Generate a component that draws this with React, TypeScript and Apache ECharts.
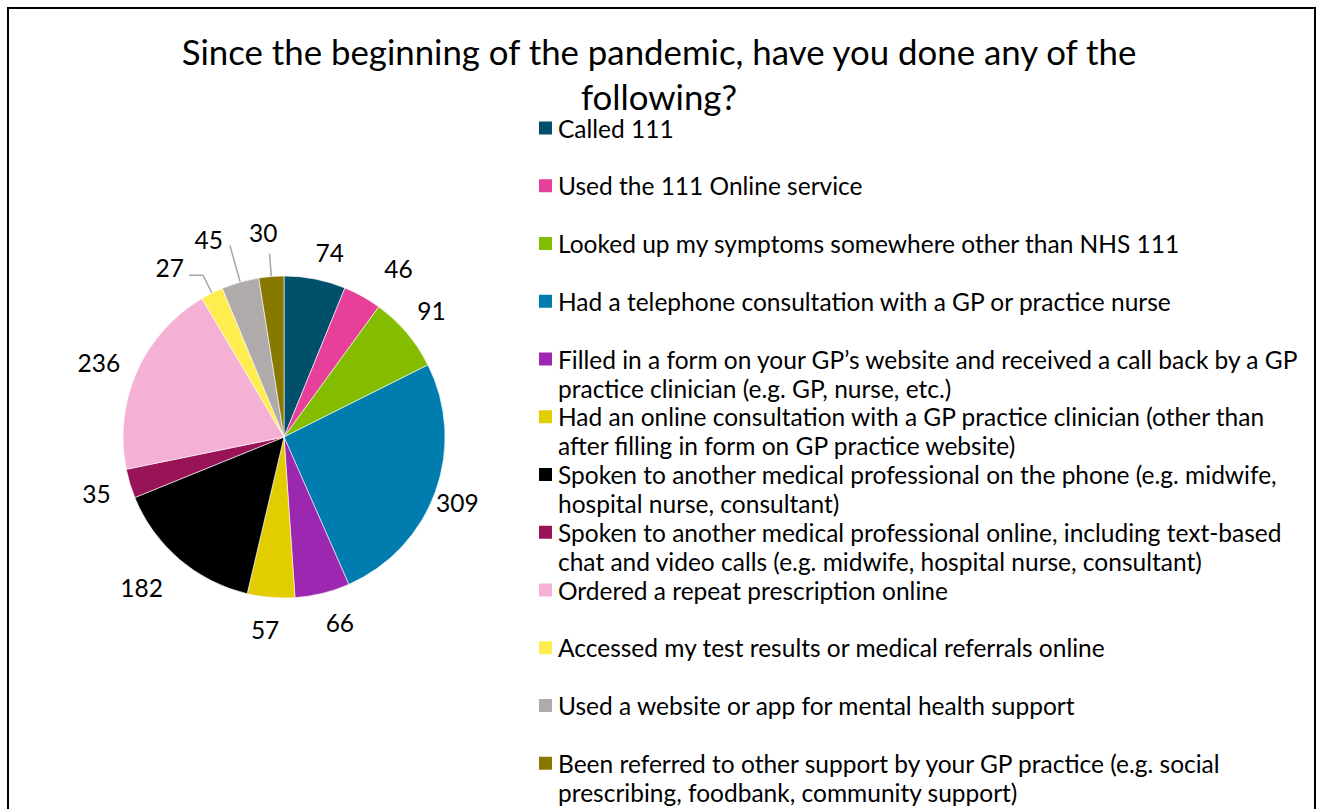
import React, { useEffect, useRef } from 'react';
import * as echarts from 'echarts';

const titleText = 'Since the beginning of the pandemic, have you done any of the\nfollowing?';

const categories = [
  'Called 111',
  'Used the 111 Online service',
  'Looked up my symptoms somewhere other than NHS 111',
  'Had a telephone consultation with a GP or practice nurse',
  'Filled in a form on your GP’s website and received a call back by a GP\npractice clinician (e.g. GP, nurse, etc.)',
  'Had an online consultation with a GP practice clinician (other than\nafter filling in form on GP practice website)',
  'Spoken to another medical professional on the phone (e.g. midwife,\nhospital nurse, consultant)',
  'Spoken to another medical professional online, including text-based\nchat and video calls (e.g. midwife, hospital nurse, consultant)',
  'Ordered a repeat prescription online',
  'Accessed my test results or medical referrals online',
  'Used a website or app for mental health support',
  'Been referred to other support by your GP practice (e.g. social\nprescribing, foodbank, community support)',
];

const values = [74, 46, 91, 309, 66, 57, 182, 35, 236, 27, 45, 30];

const colors = [
  '#00506b', '#e6409b', '#84bd00', '#007dae', '#9c27b0', '#e1cd00',
  '#000000', '#991457', '#f5b0d5', '#ffed50', '#afabab', '#877800',
];

// slices whose labels use leader lines: [length, length2]
const leaderLines: Record<number, [number, number]> = {
  9: [20, 14],
  10: [38, 0],
  11: [23, 0],
};
// small label nudges: [dx, dy]
const labelNudges: Record<number, [number, number]> = {
  0: [8, 8],
  1: [19, 3],
  2: [-2, 0],
  3: [-11, -1],
  4: [9, -5],
  5: [-3, -3],
  6: [-15, 2],
  8: [-6, 5],
  9: [0, -8],
  10: [-2, -6],
  11: [13, -21],
};

const FONT = 'Lato';

export default function App() {
  const ref = useRef<HTMLDivElement>(null);
  useEffect(() => {
    if (!ref.current) return;
    const chart = echarts.init(ref.current, undefined, { renderer: 'svg' });
    const center = [284, 437];
    const legendStart = 128;
    const legendStep = 57.75;
    const lineH = 29;
    const nudge = (p: any) => {
      const n = labelNudges[p.dataIndex];
      return n ? { dx: n[0], dy: n[1] } : {};
    };
    chart.setOption({
      animation: false,
      backgroundColor: '#fff',
      title: {
        text: titleText,
        left: 'center',
        top: 29,
        padding: 0,
        textStyle: { fontSize: 34.8, lineHeight: 45, fontWeight: 'normal', color: '#000', fontFamily: FONT },
      },
      legend: categories.map((name, i) => {
        const two = name.includes('\n');
        return {
          orient: 'vertical',
          left: 537,
          top: legendStart + legendStep * i - (two ? lineH * 1.5 : lineH / 2),
          padding: 0,
          itemWidth: 15,
          itemHeight: 15,
          icon: 'rect',
          selectedMode: false,
          formatter: (n: string) => (n.includes('\n') ? '\n' + n : n),
          textStyle: { fontSize: 24.5, lineHeight: lineH, color: '#000', fontFamily: FONT },
          data: [{ name }],
        };
      }),
      graphic: [
        {
          type: 'rect',
          shape: { x: 8, y: 8, width: 1307, height: 840 },
          style: { fill: 'none', stroke: '#000', lineWidth: 2 },
          silent: true,
        },
      ],
      series: [
        {
          type: 'pie',
          center,
          radius: 161,
          startAngle: 90,
          clockwise: true,
          avoidLabelOverlap: false,
          itemStyle: { borderColor: '#fff', borderWidth: 0.6 },
          label: { position: 'outside', formatter: '{c}', fontSize: 24.5, color: '#000', fontFamily: FONT },
          labelLine: { lineStyle: { color: '#a6a6a6', width: 1.5 } },
          labelLayout: nudge,
          emphasis: { disabled: true },
          data: values.map((v, i) => {
            const ll = leaderLines[i];
            return {
              name: categories[i],
              value: v,
              itemStyle: { color: colors[i] },
              label: { show: !!ll },
              labelLine: ll ? { show: true, length: ll[0], length2: ll[1] } : { show: false },
            };
          }),
        },
        {
          type: 'pie',
          center,
          radius: [182, 204],
          startAngle: 90,
          clockwise: true,
          silent: true,
          avoidLabelOverlap: false,
          itemStyle: { color: 'transparent' },
          label: { position: 'inside', formatter: '{c}', fontSize: 24.5, color: '#000', fontFamily: FONT, overflow: 'none' },
          labelLine: { show: false },
          labelLayout: nudge,
          emphasis: { disabled: true },
          data: values.map((v, i) => ({
            name: categories[i],
            value: v,
            label: { show: !leaderLines[i] },
          })),
        },
      ],
    });
    return () => chart.dispose();
  }, []);
  return <div ref={ref} style={{ position: 'absolute', left: 0, top: 0, width: 1318, height: 809 }} />;
}
